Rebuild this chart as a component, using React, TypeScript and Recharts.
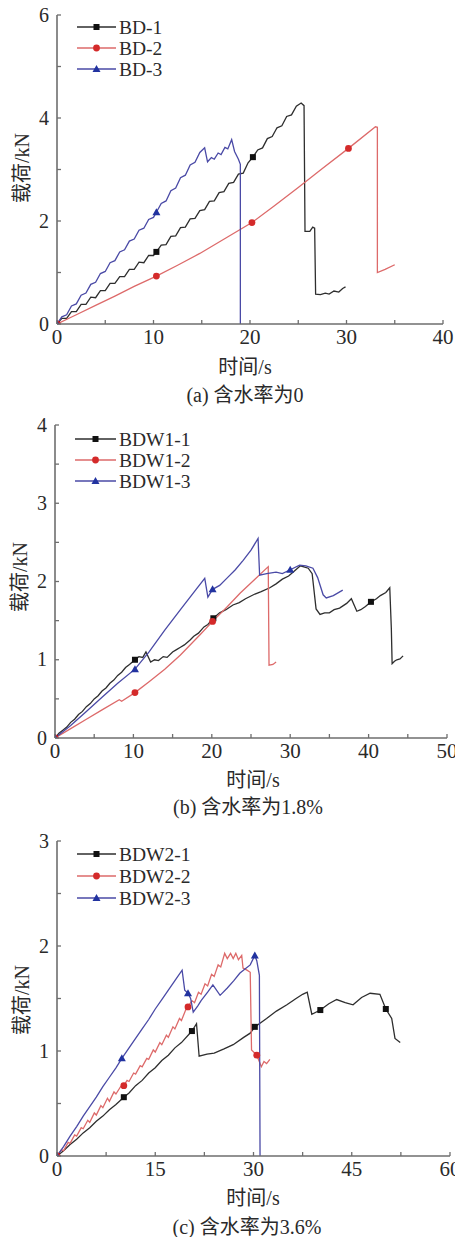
// Load–time curves of three moisture contents (Recharts, stacked panels).
import { ComposedChart, Line, Scatter, XAxis, YAxis } from "recharts";

type P = [number, number];

// (a) moisture 0
const BD1: P[] = [[0,0],[0.5,0.11],[1,0.11],[1.5,0.24],[2,0.24],[2.5,0.38],[3,0.38],[3.5,0.52],[4,0.51],[4.5,0.65],[5,0.65],[5.5,0.79],[6,0.79],[6.5,0.92],[7,0.92],[7.5,1.06],[8,1.06],[8.5,1.2],[9,1.19],[9.5,1.33],[10,1.33],[10.3,1.4],[10.8,1.53],[11.3,1.54],[11.8,1.7],[12.3,1.71],[12.8,1.87],[13.3,1.88],[13.8,2.04],[14.3,2.05],[14.8,2.2],[15.3,2.22],[15.8,2.38],[16.3,2.39],[16.8,2.55],[17.3,2.57],[17.8,2.73],[18.3,2.75],[18.8,2.91],[19.3,2.93],[19.8,3.13],[20.3,3.24],[20.8,3.38],[21.3,3.42],[21.8,3.6],[22.3,3.64],[22.8,3.81],[23.3,3.85],[23.8,4.03],[24.3,4.06],[24.8,4.23],[25.3,4.29],[25.6,4.24],[25.7,1.8],[26.2,1.8],[26.5,1.88],[26.7,1.86],[26.8,0.58],[27.3,0.57],[27.8,0.6],[28.2,0.58],[28.7,0.64],[29.2,0.62],[29.6,0.69],[29.9,0.72]];
const BD2: P[] = [[0,0],[2,0.18],[4,0.36],[6,0.54],[8,0.73],[10.3,0.93],[12.5,1.14],[14.8,1.37],[17.5,1.67],[20.2,1.97],[22.5,2.29],[25,2.65],[27.5,3.02],[30.2,3.41],[33,3.83],[33.2,3.82],[33.2,1.0],[34,1.06],[35,1.15]];
const BD3: P[] = [[0,0],[0.5,0.14],[1,0.18],[1.5,0.35],[2,0.39],[2.5,0.56],[3,0.6],[3.5,0.77],[4,0.81],[4.5,0.98],[5,1.02],[5.5,1.19],[6,1.23],[6.5,1.4],[7,1.44],[7.5,1.61],[8,1.65],[8.5,1.82],[9,1.86],[9.5,2.03],[10,2.07],[10.3,2.17],[10.8,2.34],[11.3,2.39],[11.8,2.59],[12.3,2.64],[12.8,2.84],[13.3,2.89],[13.8,3.09],[14.3,3.14],[14.8,3.33],[15.3,3.42],[15.6,3.15],[16,3.23],[16.3,3.2],[16.7,3.32],[17,3.29],[17.4,3.43],[17.7,3.4],[18.1,3.58],[18.4,3.35],[18.8,3.2],[19,3.1],[19,0]];
const BD1_MARKS: P[] = [[0,0],[10.3,1.4],[20.3,3.24]];
const BD2_MARKS: P[] = [[0,0],[10.3,0.93],[20.2,1.97],[30.2,3.41]];
const BD3_MARKS: P[] = [[0,0],[10.3,2.17]];

// (b) moisture 1.8%
const BDW11: P[] = [[0,0],[0.5,0.06],[1,0.1],[1.5,0.14],[2,0.2],[2.5,0.24],[3,0.3],[3.5,0.34],[4,0.4],[4.5,0.44],[5,0.5],[5.5,0.54],[6,0.6],[6.5,0.64],[7,0.7],[7.5,0.74],[8,0.8],[8.5,0.84],[9,0.9],[9.5,0.94],[10.2,1.0],[10.7,1.04],[11.2,1.03],[11.6,1.1],[12.2,0.97],[12.7,1.0],[13.2,0.99],[13.8,1.04],[14.3,1.03],[15,1.1],[15.5,1.13],[16,1.16],[16.5,1.19],[17.2,1.25],[17.7,1.3],[18.3,1.34],[19,1.42],[19.5,1.45],[20.2,1.53],[21,1.6],[21.8,1.64],[22.7,1.7],[23.5,1.73],[24.3,1.78],[25.5,1.84],[26.3,1.87],[27.4,1.92],[28.2,1.97],[29,2.03],[29.8,2.07],[30.5,2.13],[31.3,2.2],[32.3,2.17],[32.8,2.1],[33.3,1.65],[33.8,1.58],[34.4,1.6],[35,1.6],[35.6,1.64],[36.3,1.66],[37.2,1.72],[37.8,1.78],[38.5,1.62],[39,1.64],[39.6,1.68],[40.3,1.74],[41,1.78],[41.5,1.82],[42.2,1.86],[42.7,1.92],[42.9,1.4],[43,0.95],[43.3,0.98],[43.6,1.0],[44,1.01],[44.4,1.05]];
const BDW12: P[] = [[0,0],[2,0.12],[4,0.24],[6,0.36],[8.2,0.49],[8.5,0.47],[10.2,0.58],[12,0.72],[14,0.88],[16,1.06],[18.5,1.32],[20.1,1.49],[22,1.68],[23.6,1.85],[25.5,2.03],[27.2,2.19],[27.3,0.93],[27.8,0.94],[28.2,0.97]];
const BDW13: P[] = [[0,0],[2,0.16],[4,0.34],[6,0.52],[8,0.7],[10.2,0.88],[12,1.1],[14,1.38],[16,1.64],[18,1.9],[19.1,2.04],[19.5,1.8],[20.1,1.9],[21,1.95],[22,2.05],[23,2.15],[24,2.27],[25,2.4],[25.9,2.55],[26.1,2.08],[27,2.1],[28.2,2.12],[29,2.1],[30,2.15],[31.2,2.21],[32,2.2],[32.9,2.17],[33.5,2.05],[34.2,1.83],[34.6,1.79],[35.5,1.82],[36.7,1.89]];
const BDW11_MARKS: P[] = [[0,0],[10.2,1.0],[20.2,1.53],[40.3,1.74]];
const BDW12_MARKS: P[] = [[0,0],[10.2,0.58],[20.1,1.49]];
const BDW13_MARKS: P[] = [[0,0],[10.2,0.88],[20.1,1.9],[30,2.15]];

// (c) moisture 3.6%
const BDW21: P[] = [[0,0],[1,0.05],[2,0.11],[3,0.16],[4,0.22],[5,0.27],[6,0.33],[7,0.38],[8,0.44],[9,0.49],[10.2,0.56],[11,0.6],[12,0.67],[13,0.72],[14,0.79],[15,0.84],[16,0.91],[17,0.96],[18,1.03],[19,1.08],[20.6,1.19],[21.3,1.26],[21.7,0.95],[22.9,0.97],[24,0.98],[25.5,1.02],[26.9,1.06],[28.5,1.13],[29.5,1.17],[30.2,1.23],[32,1.31],[33.5,1.38],[35.1,1.44],[36.5,1.5],[37.5,1.54],[38.2,1.56],[38.9,1.35],[40.2,1.39],[41.5,1.45],[42.7,1.49],[44,1.46],[45.2,1.44],[46.5,1.51],[47.8,1.55],[49.3,1.54],[50.2,1.4],[51.1,1.31],[51.6,1.12],[52.4,1.08]];
const BDW22: P[] = [[0,0],[0.7,0.06],[1,0.05],[1.7,0.13],[2,0.12],[2.7,0.2],[3,0.19],[3.7,0.27],[4,0.26],[4.7,0.34],[5,0.32],[5.7,0.41],[6,0.39],[6.7,0.48],[7,0.46],[7.7,0.55],[8,0.52],[8.7,0.61],[9,0.59],[9.7,0.66],[10.2,0.67],[10.7,0.72],[11,0.71],[11.7,0.79],[12,0.78],[12.7,0.86],[13,0.85],[13.7,0.93],[14,0.92],[14.7,1.01],[15,0.99],[15.7,1.08],[16,1.06],[16.7,1.15],[17,1.13],[17.7,1.23],[18,1.21],[18.7,1.31],[19,1.29],[19.7,1.4],[20,1.42],[20.6,1.48],[21,1.46],[21.6,1.56],[22,1.54],[22.6,1.64],[23,1.62],[23.6,1.73],[24,1.71],[24.6,1.82],[25,1.8],[25.6,1.93],[26,1.88],[26.5,1.93],[26.9,1.88],[27.3,1.93],[27.7,1.87],[28.2,1.91],[28.4,1.79],[29,1.77],[29.5,1.75],[29.7,1.01],[30.5,0.96],[31.2,0.85],[31.6,0.9],[32,0.88],[32.5,0.92]];
const BDW23: P[] = [[0,0],[1,0.09],[2,0.19],[3,0.28],[4,0.38],[5,0.47],[6,0.56],[7,0.66],[8,0.75],[9,0.84],[9.9,0.93],[11,1.03],[12,1.12],[13,1.21],[14,1.3],[15,1.4],[16,1.49],[17,1.58],[18,1.67],[19.1,1.77],[19.5,1.58],[20,1.55],[20.4,1.5],[20.8,1.37],[21.5,1.43],[22,1.48],[23,1.56],[23.8,1.63],[24.9,1.53],[26,1.6],[27,1.67],[27.9,1.74],[28.7,1.78],[29.5,1.82],[30.2,1.91],[30.5,1.86],[30.9,1.72],[31,0]];
const BDW21_MARKS: P[] = [[0,0],[10.2,0.56],[20.6,1.19],[30.2,1.23],[40.2,1.39],[50.2,1.4]];
const BDW22_MARKS: P[] = [[0,0],[10.2,0.67],[20,1.42],[30.5,0.96]];
const BDW23_MARKS: P[] = [[0,0],[9.9,0.93],[20,1.55],[30.2,1.91]];

const XTICKS_A = [0, 5, 10, 15, 20, 25, 30, 35, 40];
const YTICKS_A = [0, 1, 2, 3, 4, 5, 6];
const XTICKS_B = [0, 5, 10, 15, 20, 25, 30, 35, 40, 45, 50];
const YTICKS_B = [0, 0.5, 1, 1.5, 2, 2.5, 3, 3.5, 4];
const XTICKS_C = [0, 7.5, 15, 22.5, 30, 37.5, 45, 52.5, 60];
const YTICKS_C = [0, 0.5, 1, 1.5, 2, 2.5, 3];

const SERIF = '"Liberation Serif", "Times New Roman", "Noto Sans CJK SC", serif';
const AX = "#6e6e6e";
const TXT = "#2a2a2a";

type Kind = "square" | "circle" | "triangle";
type Series = { name: string; line: P[]; marks: P[]; color: string; markColor: string; kind: Kind };

const BLACK = { color: "#2e2e2e", markColor: "#111", kind: "square" as Kind };
const RED = { color: "#dd6a6a", markColor: "#d42a2a", kind: "circle" as Kind };
const BLUE = { color: "#4a4aa6", markColor: "#2233a0", kind: "triangle" as Kind };

const pts = (a: P[]) => a.map(([t, v]) => ({ t, v }));

function Marker({ cx, cy, kind, color }: { cx: number; cy: number; kind: Kind; color: string }) {
  if (kind === "square") return <rect x={cx - 3} y={cy - 3} width={6} height={6} fill={color} />;
  if (kind === "circle") return <circle cx={cx} cy={cy} r={3.4} fill={color} />;
  return <path d={`M${cx},${cy - 4}L${cx + 4},${cy + 3}L${cx - 4},${cy + 3}Z`} fill={color} />;
}

const isMajor = (v: number, every: number) => Math.abs(v / every - Math.round(v / every)) < 1e-6;

type Cfg = {
  top: number; plotTop: number; plotBottom: number; left: number; right: number;
  xMax: number; xTicks: number[]; xEvery: number;
  yMax: number; yTicks: number[]; yEvery: number;
  series: Series[]; legendRows: number[]; legendX: [number, number];
  xTitle: [number, number]; yTitle: [number, number]; caption: string; capPos: [number, number];
};

function Panel({ c }: { c: Cfg }) {
  const H = c.plotBottom - c.top + 30;
  return (
    <>
      <div style={{ position: "absolute", left: 0, top: c.top }}>
        <ComposedChart width={455} height={H}
          margin={{ top: c.plotTop - c.top, right: 455 - c.right, bottom: 0, left: c.left - 40 }}>
          <XAxis type="number" dataKey="t" domain={[0, c.xMax]} ticks={c.xTicks} interval={0} height={30}
            allowDataOverflow tickSize={0} tickMargin={0} tickLine={false}
            axisLine={{ stroke: AX, strokeWidth: 1.6 }}
            tick={(p: any) => (
              <g key={p.index}>
                <line x1={p.x} x2={p.x} y1={p.y} y2={p.y - 4} stroke={AX} strokeWidth={1.3} />
                {isMajor(p.payload.value, c.xEvery) && (
                  <text x={p.x} y={p.y + 20} textAnchor="middle" fontFamily={SERIF} fontSize={21} fill={TXT}>
                    {p.payload.value}
                  </text>
                )}
              </g>
            )} />
          <YAxis type="number" dataKey="v" domain={[0, c.yMax]} ticks={c.yTicks} interval={0} width={40}
            allowDataOverflow tickSize={0} tickMargin={0} tickLine={false}
            axisLine={{ stroke: AX, strokeWidth: 1.6 }}
            tick={(p: any) => (
              <g key={p.index}>
                <line x1={p.x} x2={p.x + 4} y1={p.y} y2={p.y} stroke={AX} strokeWidth={1.3} />
                {isMajor(p.payload.value, c.yEvery) && (
                  <text x={p.x - 8} y={p.y + 6.5} textAnchor="end" fontFamily={SERIF} fontSize={20} fill={TXT}>
                    {p.payload.value}
                  </text>
                )}
              </g>
            )} />
          {c.series.map((s) => (
            <Line key={s.name} data={pts(s.line)} dataKey="v" type="linear" stroke={s.color} strokeWidth={1.3}
              dot={false} activeDot={false} isAnimationActive={false} />
          ))}
          {c.series.map((s) => (
            <Scatter key={s.name + "m"} data={pts(s.marks)} dataKey="v" fill={s.markColor} isAnimationActive={false}
              shape={(p: any) => <Marker cx={p.cx} cy={p.cy} kind={s.kind} color={s.markColor} />} />
          ))}
        </ComposedChart>
      </div>
      <svg style={{ position: "absolute", left: 0, top: 0, overflow: "visible" }} width={1} height={1}>
        {c.series.map((s, i) => {
          const y = c.legendRows[i];
          const [x1, x2] = c.legendX;
          return (
            <g key={s.name}>
              <line x1={x1} x2={x2} y1={y} y2={y} stroke={s.color} strokeWidth={1.6} />
              <Marker cx={(x1 + x2) / 2} cy={y} kind={s.kind} color={s.markColor} />
              <text x={x2 + 3} y={y + 6.5} fontFamily={SERIF} fontSize={19.5} fill={TXT}>{s.name}</text>
            </g>
          );
        })}
      </svg>
      <div style={{ position: "absolute", left: c.xTitle[0] - 60, top: c.xTitle[1] - 12, width: 120, textAlign: "center",
        fontFamily: SERIF, fontSize: 20, color: TXT, lineHeight: "24px" }}>时间/s</div>
      <div style={{ position: "absolute", left: c.yTitle[0] - 60, top: c.yTitle[1] - 12, width: 120, textAlign: "center",
        fontFamily: SERIF, fontSize: 20, color: TXT, lineHeight: "24px", transform: "rotate(-90deg)" }}>载荷/kN</div>
      <div style={{ position: "absolute", left: c.capPos[0] - 120, top: c.capPos[1] - 12, width: 240, textAlign: "center",
        fontFamily: SERIF, fontSize: 20, color: TXT, lineHeight: "24px" }}>{c.caption}</div>
    </>
  );
}

const PANELS: Cfg[] = [
  {
    top: 0, plotTop: 15, plotBottom: 324, left: 57, right: 443,
    xMax: 40, xTicks: XTICKS_A, xEvery: 10, yMax: 6, yTicks: YTICKS_A, yEvery: 2,
    series: [
      { name: "BD-1", line: BD1, marks: BD1_MARKS, ...BLACK },
      { name: "BD-2", line: BD2, marks: BD2_MARKS, ...RED },
      { name: "BD-3", line: BD3, marks: BD3_MARKS, ...BLUE },
    ],
    legendRows: [27, 48, 69], legendX: [77, 116],
    xTitle: [245, 367], yTitle: [22, 168], caption: "(a) 含水率为0", capPos: [245, 395],
  },
  {
    top: 410, plotTop: 425, plotBottom: 738, left: 55, right: 447,
    xMax: 50, xTicks: XTICKS_B, xEvery: 10, yMax: 4, yTicks: YTICKS_B, yEvery: 1,
    series: [
      { name: "BDW1-1", line: BDW11, marks: BDW11_MARKS, ...BLACK },
      { name: "BDW1-2", line: BDW12, marks: BDW12_MARKS, ...RED },
      { name: "BDW1-3", line: BDW13, marks: BDW13_MARKS, ...BLUE },
    ],
    legendRows: [439, 460, 481], legendX: [75, 116],
    xTitle: [253, 780], yTitle: [20, 577], caption: "(b) 含水率为1.8%", capPos: [248, 807],
  },
  {
    top: 826, plotTop: 841, plotBottom: 1156, left: 57, right: 450,
    xMax: 60, xTicks: XTICKS_C, xEvery: 15, yMax: 3, yTicks: YTICKS_C, yEvery: 1,
    series: [
      { name: "BDW2-1", line: BDW21, marks: BDW21_MARKS, ...BLACK },
      { name: "BDW2-2", line: BDW22, marks: BDW22_MARKS, ...RED },
      { name: "BDW2-3", line: BDW23, marks: BDW23_MARKS, ...BLUE },
    ],
    legendRows: [854, 876, 898], legendX: [77, 116],
    xTitle: [253, 1198], yTitle: [22, 1000], caption: "(c) 含水率为3.6%", capPos: [247, 1227],
  },
];

export default function App() {
  return (
    <div style={{ position: "absolute", left: 0, top: 0, width: 455, height: 1237, background: "#fff", overflow: "hidden" }}>
      {PANELS.map((c, i) => <Panel key={i} c={c} />)}
    </div>
  );
}
